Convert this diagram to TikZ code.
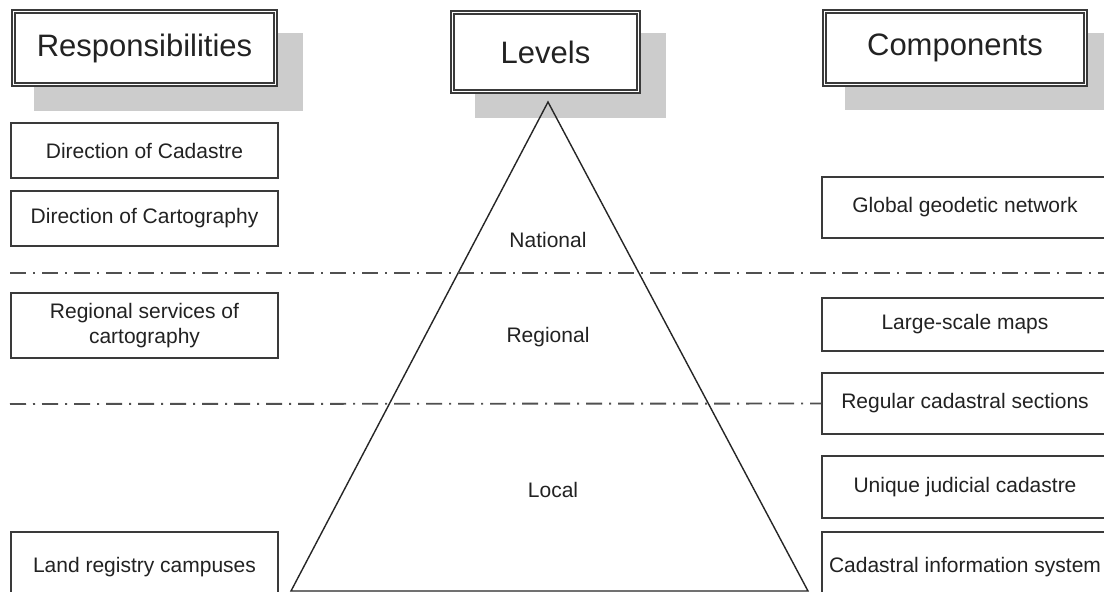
\documentclass[tikz,border=0pt]{standalone}
\usepackage{fontspec}
\setmainfont{Liberation Sans}
\definecolor{boxc}{HTML}{3A3A3A}
\definecolor{shadowc}{HTML}{CCCCCC}
\definecolor{sepc}{HTML}{505050}
\definecolor{textc}{HTML}{222222}
\begin{document}
\begin{tikzpicture}[x=1pt,y=-1pt,
  txt/.style={font=\fontsize{21}{25}\selectfont, text=textc, align=center},
  box/.style={txt, draw=boxc, line width=1.5pt, fill=white, inner sep=0pt},
  head/.style={draw=boxc, double=white, double distance=1.5pt, line width=1.4pt, fill=white,
    font=\fontsize{31}{36}\selectfont, text=textc, inner sep=0pt},
  shade/.style={fill=shadowc},
  sepline/.style={draw=sepc, line width=1.9pt, dash pattern=on 16pt off 7pt on 2pt off 7pt},
  tri/.style={draw=black!85, line width=1.4pt, line join=miter}
  ]
\useasboundingbox (0,0) rectangle (1104,592);
\clip (0,0) rectangle (1104,592);
\fill[white] (0,0) rectangle (1104,592);
% shadows
\fill[shade] (34,33) rectangle (303,111);
\fill[shade] (475,33) rectangle (666,118);
\fill[shade] (845,33) rectangle (1110,110);
% headers
\node[head, minimum width=262pt, minimum height=73pt] (hr) at (144.5,48) {Responsibilities};
\node[head, minimum width=186pt, minimum height=79pt] (hl) at (545.5,52) {Levels};
\node[head, minimum width=261pt, minimum height=73pt] (hc) at (955,48) {Components};
% triangle
\coordinate (apex) at (548,102);
\coordinate (bl) at (291,591);
\coordinate (br) at (808,591);
\draw[tri] (bl) -- (apex) -- (br) -- cycle;
\node[txt] (nat) at (548,240) {National};
\node[txt] (reg) at (548,337) {Regional};
\node[txt] (loc) at (553,490) {Local};
% left boxes
\node[box, minimum width=267pt, minimum height=55pt] (dc) at (144.5,150.5) {Direction of Cadastre};
\node[box, minimum width=267pt, minimum height=55pt] (dca) at (144.5,218.5) {Direction of Cartography};
\node[box, minimum width=267pt, minimum height=65pt] (rs) at (144.5,325.5) {Regional services of\\cartography};
\node[box, minimum width=267pt, minimum height=70pt] (lr) at (144.5,567) {Land registry campuses};
% right boxes
\node[box, minimum width=286pt, minimum height=61pt] (gg) at (965,207.5) {Global geodetic network};
\node[box, minimum width=286pt, minimum height=53pt] (ls) at (965,324.5) {Large-scale maps};
\node[box, minimum width=286pt, minimum height=61pt] (rc) at (965,403.5) {Regular cadastral sections};
\node[box, minimum width=286pt, minimum height=62pt] (uj) at (965,487) {Unique judicial cadastre};
\node[box, minimum width=286pt, minimum height=70pt] (ci) at (965,567) {Cadastral information system};
% separators
\coordinate (s1a) at (10,273);
\coordinate (s1b) at (1104,273);
\coordinate (s2a) at (10,404);
\draw[sepline] (s1a) -- (s1b);
\draw[sepline] (s2a) -- (rc.west);
\end{tikzpicture}
\end{document}
